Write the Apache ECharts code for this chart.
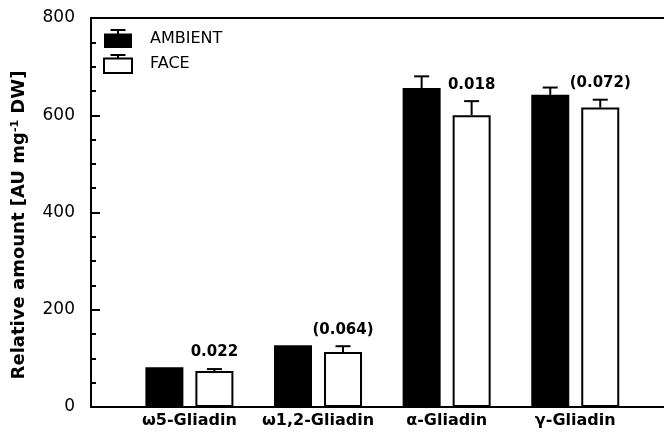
<!DOCTYPE html>
<html>
<head>
<meta charset="utf-8">
<script src="https://cdn.jsdelivr.net/npm/echarts@6/dist/echarts.min.js"></script>
<style>html,body{margin:0;padding:0;background:#fff}#c{width:664px;height:439px}</style>
</head>
<body>
<div id="c"></div>
<script>
const categories = ['ω5-Gliadin', 'ω1,2-Gliadin', 'α-Gliadin', 'γ-Gliadin'];
const ambient = [82, 127, 656, 642];
const ambientErr = [0, 0, 24, 15];
const face = [74, 113, 600, 616];
const faceErr = [4, 12, 29, 16];
const pLabels = ['0.022', '(0.064)', '0.018', '(0.072)'];
const yTicks = [0, 200, 400, 600, 800];

const FONT = 'DejaVu Sans';
const W = 664, GRID_LEFT = 91, GRID_RIGHT = 0;
const chart = echarts.init(document.getElementById('c'), null, {renderer: 'canvas'});

const xs = categories.map((c, i) => i + 1);
const ambientData = xs.map((x, i) => [x, ambient[i]]);
const faceData = xs.map((x, i) => [x, face[i]]);
const ambientErrData = xs.map((x, i) => [x, ambient[i], ambientErr[i]]);
const faceErrData = xs.map((x, i) => [x, face[i], faceErr[i]]);

function errRender(offset, labels) {
  return function (params, api) {
    const x = api.value(0), y = api.value(1), e = api.value(2);
    const base = api.coord([x, y]);
    const top = api.coord([x, y + e]);
    const cx = base[0] + offset;
    const children = [];
    if (e > 0) {
      children.push({type: 'line', shape: {x1: cx, y1: base[1], x2: cx, y2: top[1]}, style: {stroke: '#000', lineWidth: 2}});
      children.push({type: 'line', shape: {x1: cx - 7.5, y1: top[1], x2: cx + 7.5, y2: top[1]}, style: {stroke: '#000', lineWidth: 2}});
    }
    if (labels) {
      children.push({type: 'text', x: cx, y: top[1] - 9, style: {text: labels[params.dataIndex], fill: '#000', font: 'bold 15px ' + FONT, align: 'center', verticalAlign: 'bottom'}});
    }
    return {type: 'group', children: children};
  };
}

const iconA = 'path://M6.5,0H21.5V2H6.5Z M13,2H15V4.5H13Z M0,4.5H28V19H0Z';
const iconF = 'path://M6.5,1H21.5M14,1V4.5M0,4.5H28V19H0Z';

const yMin = yTicks[0], yMax = yTicks[yTicks.length - 1];

// tick-only axes placed on the right side and shifted onto the left axis line,
// so their outward ticks point into the plot
function tickAxis(interval, len) {
  return {
    type: 'value', min: yMin, max: yMax, interval: interval, position: 'right',
    offset: -(W - GRID_LEFT - GRID_RIGHT),
    axisLine: {show: false},
    axisTick: {show: true, inside: false, length: len, lineStyle: {color: '#000', width: 2}},
    axisLabel: {show: false}, splitLine: {show: false}
  };
}

const option = {
  animation: false,
  backgroundColor: '#fff',
  grid: {left: GRID_LEFT, right: GRID_RIGHT, top: 18, bottom: 32, containLabel: false},
  legend: {
    left: 98, top: 24, orient: 'vertical', itemWidth: 28, itemHeight: 19, itemGap: 6,
    textStyle: {fontFamily: FONT, fontSize: 16, color: '#000', padding: [0, 0, 0, 13]},
    data: [
      {name: 'AMBIENT', icon: iconA, itemStyle: {color: '#000', borderWidth: 0}},
      {name: 'FACE', icon: iconF, itemStyle: {color: '#fff', borderColor: '#000', borderWidth: 2}}
    ],
    selectedMode: false
  },
  xAxis: [{
    type: 'value', min: 0.235, max: 4.69,
    axisLine: {show: true, lineStyle: {color: '#000', width: 2}},
    axisTick: {show: false},
    splitLine: {show: false},
    axisLabel: {
      customValues: xs, margin: 6,
      formatter: v => categories[Math.round(v) - 1] || '',
      fontFamily: FONT, fontSize: 16, fontWeight: 'bold', color: '#000'
    }
  }, {
    type: 'value', min: 0.235, max: 4.69, position: 'top',
    axisLine: {show: true, onZero: false, lineStyle: {color: '#000', width: 2}},
    axisTick: {show: false}, axisLabel: {show: false}, splitLine: {show: false}
  }],
  yAxis: [{
    type: 'value', min: yMin, max: yMax, interval: 200, position: 'left',
    axisLine: {show: true, lineStyle: {color: '#000', width: 2}},
    axisTick: {show: false},
    splitLine: {show: false},
    axisLabel: {fontFamily: FONT, fontSize: 17, color: '#000', margin: 16},
    name: 'Relative amount [AU mg{sup|-1} DW]',
    nameLocation: 'middle', nameRotate: 90, nameGap: 62,
    nameTextStyle: {
      fontFamily: FONT, fontSize: 18, fontWeight: 'bold', color: '#000', padding: [0, 25, 0, 0],
      rich: {sup: {fontFamily: FONT, fontSize: 11, fontWeight: 'bold', verticalAlign: 'top', padding: [0, 0, 8, 0]}}
    }
  }, tickAxis(200, 9), tickAxis(50, 5)],
  series: [
    {name: 'AMBIENT', type: 'bar', data: ambientData, barWidth: 38, barGap: '31.6%',
     itemStyle: {color: '#000'}, z: 2},
    {name: 'FACE', type: 'bar', data: faceData, barWidth: 38, barGap: '31.6%',
     itemStyle: {color: '#fff', borderColor: '#000', borderWidth: 2}, z: 2},
    {name: 'ambErr', type: 'custom', data: ambientErrData, renderItem: errRender(-25, null), z: 3, silent: true},
    {name: 'faceErr', type: 'custom', data: faceErrData, renderItem: errRender(25, pLabels), z: 3, silent: true}
  ]
};
chart.setOption(option);
</script>
</body>
</html>
